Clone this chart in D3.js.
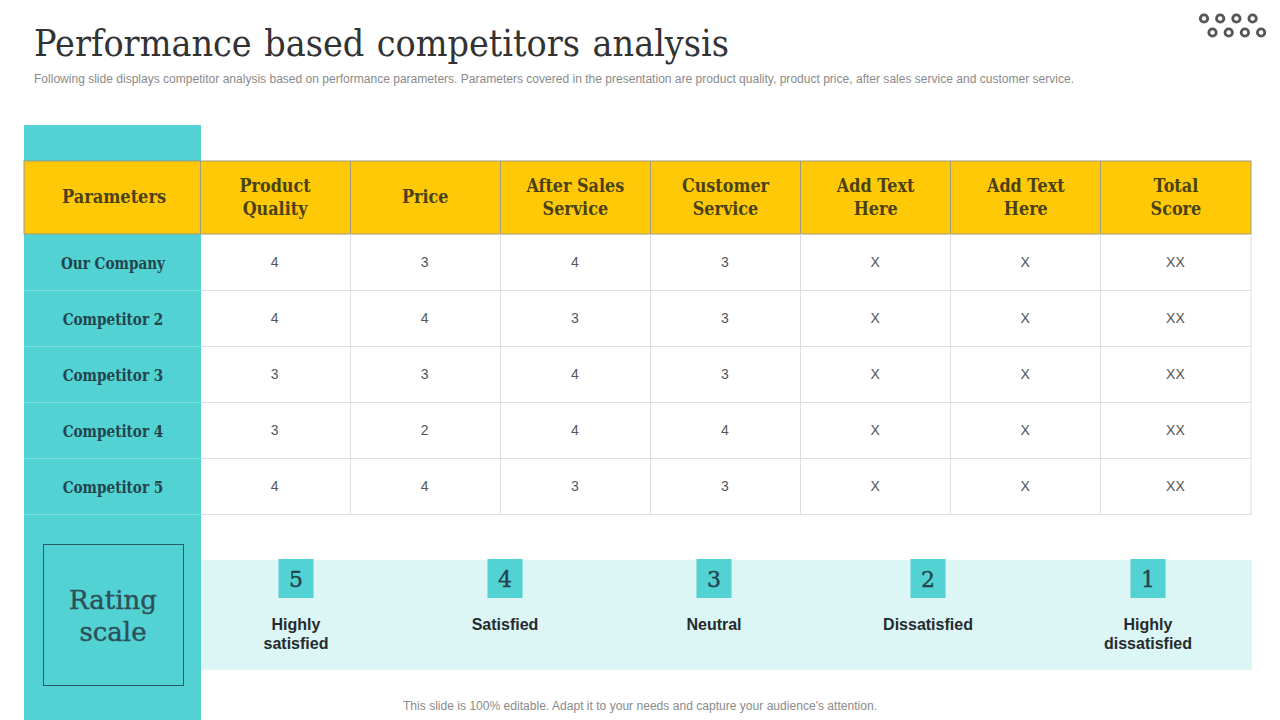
<!DOCTYPE html>
<html>
<head>
<meta charset="utf-8">
<script src="https://cdn.jsdelivr.net/npm/d3@7/dist/d3.min.js"></script>
<style>
  html, body { margin: 0; padding: 0; background: #fff; }
  svg { display: block; }
  .serif { font-family: "DejaVu Serif", "Liberation Serif", serif; }
  .sans { font-family: "Liberation Sans", Arial, sans-serif; }
</style>
</head>
<body>
<svg id="chart" width="1280" height="720"></svg>
<script>
const titleText = 'Performance based competitors analysis';
const subtitleText = 'Following slide displays competitor analysis based on performance parameters. Parameters covered in the presentation are product quality, product price, after sales service and customer service.';
const footerText = "This slide is 100% editable. Adapt it to your needs and capture your audience's attention.";

const cornerLabel = 'Parameters';
const columns = [['Product', 'Quality'], ['Price'], ['After Sales', 'Service'], ['Customer', 'Service'], ['Add Text', 'Here'], ['Add Text', 'Here'], ['Total', 'Score']];
const companies = ['Our Company', 'Competitor 2', 'Competitor 3', 'Competitor 4', 'Competitor 5'];

const productQuality = [4, 4, 3, 3, 4];
const price = [3, 4, 3, 2, 4];
const afterSales = [4, 3, 4, 4, 3];
const customerService = [3, 3, 3, 4, 3];
const addText1 = ['X', 'X', 'X', 'X', 'X'];
const addText2 = ['X', 'X', 'X', 'X', 'X'];
const totalScore = ['XX', 'XX', 'XX', 'XX', 'XX'];

const ratings = [5, 4, 3, 2, 1];
const ratingLabels = [['Highly', 'satisfied'], ['Satisfied'], ['Neutral'], ['Dissatisfied'], ['Highly', 'dissatisfied']];

const TEAL = '#52d2d2', YELLOW = '#ffc907', HEADER_LINE = '#a09a80', GRID = '#dedede';

const svg = d3.select('#chart');
const series = [productQuality, price, afterSales, customerService, addText1, addText2, totalScore];

const x = d3.scaleBand().domain(d3.range(columns.length)).range([200, 1251]);
const y = d3.scaleBand().domain(companies).range([234.5, 515]);
const ratingX = d3.scaleOrdinal().domain(ratings).range([296, 505, 714, 928, 1148]);

// Aligner les traits sur les pixels
const crisp = v => Math.floor(v) + 0.5;

// Resserrer un texte en largeur (la police d'origine n'est pas disponible)
function narrow(selection, k) {
  selection.each(function() {
    d3.select(this)
      .attr('textLength', this.getComputedTextLength() * k)
      .attr('lengthAdjust', 'spacingAndGlyphs');
  });
}

// Titre
svg.append('text').attr('class', 'serif')
  .attr('x', 34).attr('y', 56)
  .attr('font-size', 37).attr('fill', '#333').attr('word-spacing', 2)
  .attr('textLength', 695).attr('lengthAdjust', 'spacingAndGlyphs')
  .text(titleText);
svg.append('text').attr('class', 'sans')
  .attr('x', 34).attr('y', 83)
  .attr('font-size', 12).attr('fill', '#8a8a8a')
  .attr('textLength', 1040).attr('lengthAdjust', 'spacingAndGlyphs')
  .text(subtitleText);

// Logo en haut a droite
const dots = svg.append('g').attr('fill', 'none').attr('stroke', '#555').attr('stroke-width', 2.8);
[0, 1, 2, 3].forEach(i => {
  dots.append('circle').attr('cx', 1204 + i * 16.2).attr('cy', 18.5).attr('r', 3.7);
  dots.append('circle').attr('cx', 1212.5 + i * 16.2).attr('cy', 32.5).attr('r', 3.7);
});

// Colonne turquoise
svg.append('rect').attr('x', 24).attr('y', 125).attr('width', 177).attr('height', 595).attr('fill', TEAL);

// En-tete
svg.append('rect').attr('x', 24).attr('y', 161).attr('width', 1227).attr('height', 73)
  .attr('fill', YELLOW).attr('stroke', HEADER_LINE).attr('stroke-width', 1);
svg.append('text').attr('class', 'serif')
  .attr('x', 114).attr('y', 203)
  .attr('text-anchor', 'middle').attr('font-size', 18).attr('font-weight', 700).attr('fill', '#4a4216')
  .text(cornerLabel)
  .call(narrow, 0.9);

const head = svg.selectAll('.head').data(columns).enter().append('g').attr('class', 'head');
head.append('line')
  .attr('x1', (d, i) => crisp(x(i))).attr('x2', (d, i) => crisp(x(i)))
  .attr('y1', 161).attr('y2', 234)
  .attr('stroke', HEADER_LINE);
head.each(function(lines, i) {
  const startY = lines.length === 1 ? 203 : 192;
  d3.select(this).selectAll('text').data(lines).enter().append('text')
    .attr('class', 'serif')
    .attr('x', x(i) + x.bandwidth() / 2)
    .attr('y', (d, j) => startY + j * 23)
    .attr('text-anchor', 'middle').attr('font-size', 18).attr('font-weight', 700).attr('fill', '#4a4216')
    .text(d => d)
    .call(narrow, 0.89);
});

// Grille
const grid = svg.append('g').attr('stroke', GRID).attr('stroke-width', 1);
companies.forEach(c => {
  const py = crisp(y(c) + y.bandwidth() - 0.5);
  grid.append('line').attr('x1', 201).attr('x2', 1251).attr('y1', py).attr('y2', py);
  svg.append('line').attr('x1', 24).attr('x2', 201).attr('y1', py).attr('y2', py)
    .attr('stroke', '#7fdede');
});
d3.range(1, columns.length + 1).forEach(i => {
  const px = i === columns.length ? 1251 : crisp(x(i));
  grid.append('line').attr('x1', px).attr('x2', px).attr('y1', 234).attr('y2', 515);
});

// Lignes
svg.selectAll('.company').data(companies).enter().append('text')
  .attr('class', 'company serif')
  .attr('x', 113).attr('y', d => y(d) + y.bandwidth() / 2 + 6)
  .attr('text-anchor', 'middle').attr('font-size', 16).attr('font-weight', 700).attr('fill', '#23444c')
  .text(d => d)
  .call(narrow, 0.85);

series.forEach((values, col) => {
  svg.selectAll('.val' + col).data(values).enter().append('text')
    .attr('class', 'sans val' + col)
    .attr('x', x(col) + x.bandwidth() / 2 - 0.5)
    .attr('y', (d, i) => y(companies[i]) + y.bandwidth() / 2 + 4.5)
    .attr('text-anchor', 'middle').attr('font-size', 14).attr('fill', '#555')
    .text(d => d);
});

// Echelle de notation
svg.append('rect').attr('x', 43.5).attr('y', 544.5).attr('width', 140).attr('height', 141)
  .attr('fill', 'none').attr('stroke', '#2c5a62').attr('stroke-width', 1);
['Rating', 'scale'].forEach((t, i) => {
  svg.append('text').attr('class', 'serif')
    .attr('x', 113).attr('y', 609 + i * 32)
    .attr('text-anchor', 'middle').attr('font-size', 26).attr('fill', '#2d5058')
    .attr('stroke', '#2d5058').attr('stroke-width', 0.4)
    .text(t);
});

svg.append('rect').attr('x', 201).attr('y', 560).attr('width', 1051).attr('height', 110).attr('fill', '#dcf5f5');

const rating = svg.selectAll('.rating').data(ratings).enter().append('g').attr('class', 'rating');
rating.append('rect')
  .attr('x', d => ratingX(d) - 17.5).attr('y', 559)
  .attr('width', 35).attr('height', 39)
  .attr('fill', TEAL);
rating.append('text').attr('class', 'serif')
  .attr('x', d => ratingX(d)).attr('y', 587)
  .attr('text-anchor', 'middle').attr('font-size', 22).attr('fill', '#23444c')
  .attr('stroke', '#23444c').attr('stroke-width', 0.4)
  .text(d => d);
rating.each(function(d, i) {
  d3.select(this).selectAll('.lab').data(ratingLabels[i]).enter().append('text')
    .attr('class', 'lab sans')
    .attr('x', ratingX(d)).attr('y', (t, j) => 630 + j * 19)
    .attr('text-anchor', 'middle').attr('font-size', 16).attr('font-weight', 700).attr('fill', '#262b2e')
    .text(t => t);
});

svg.append('text').attr('class', 'sans')
  .attr('x', 640).attr('y', 710)
  .attr('text-anchor', 'middle').attr('font-size', 12).attr('fill', '#8a8a8a')
  .attr('textLength', 474).attr('lengthAdjust', 'spacingAndGlyphs')
  .text(footerText);
</script>
</body>
</html>
